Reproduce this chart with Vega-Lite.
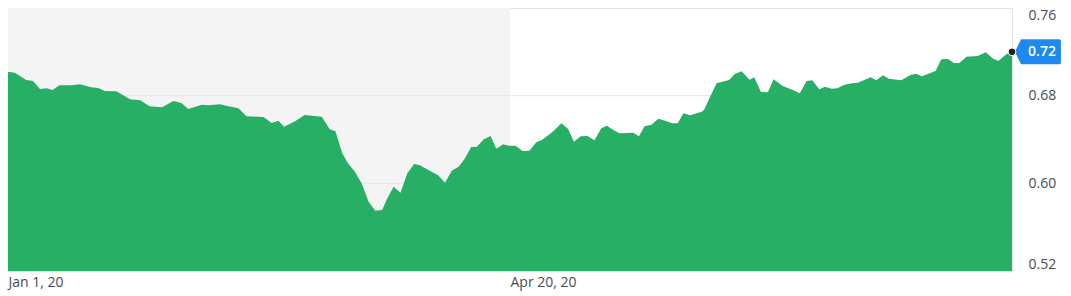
{
  "$schema": "https://vega.github.io/schema/vega-lite/v6.json",
  "width": 1004,
  "height": 263,
  "autosize": {"type": "none"},
  "padding": {"left": 8, "top": 8, "right": 59, "bottom": 25},
  "background": "white",
  "config": {"view": {"stroke": "#e2e2e2", "strokeWidth": 1}, "font": "Open Sans"},
  "datasets": {
    "band": [{"start": "2020-01-01T00:00", "end": "2020-04-20T00:00"}],
    "grid": [{"v": 0.60}, {"v": 0.68}],
    "last": [{"date": "2020-08-08T00:00", "value": 0.72}],
    "series": [
      {"date": "2020-01-01T00:00", "value": 0.7019},
      {"date": "2020-01-02T12:00", "value": 0.7010},
      {"date": "2020-01-05T00:00", "value": 0.6943},
      {"date": "2020-01-06T12:00", "value": 0.6934},
      {"date": "2020-01-08T00:00", "value": 0.6861},
      {"date": "2020-01-09T12:00", "value": 0.6867},
      {"date": "2020-01-10T18:00", "value": 0.6852},
      {"date": "2020-01-12T06:00", "value": 0.6895},
      {"date": "2020-01-15T00:00", "value": 0.6895},
      {"date": "2020-01-16T18:00", "value": 0.6904},
      {"date": "2020-01-19T06:00", "value": 0.6876},
      {"date": "2020-01-20T18:00", "value": 0.6870},
      {"date": "2020-01-22T06:00", "value": 0.6843},
      {"date": "2020-01-24T18:00", "value": 0.6840},
      {"date": "2020-01-27T18:00", "value": 0.6767},
      {"date": "2020-01-30T00:00", "value": 0.6758},
      {"date": "2020-02-01T00:00", "value": 0.6703},
      {"date": "2020-02-03T18:00", "value": 0.6694},
      {"date": "2020-02-06T06:00", "value": 0.6751},
      {"date": "2020-02-08T00:00", "value": 0.6733},
      {"date": "2020-02-09T12:00", "value": 0.6678},
      {"date": "2020-02-12T12:00", "value": 0.6718},
      {"date": "2020-02-14T00:00", "value": 0.6712},
      {"date": "2020-02-16T12:00", "value": 0.6721},
      {"date": "2020-02-18T00:00", "value": 0.6706},
      {"date": "2020-02-20T12:00", "value": 0.6685},
      {"date": "2020-02-22T06:00", "value": 0.6612},
      {"date": "2020-02-26T00:00", "value": 0.6605},
      {"date": "2020-02-27T18:00", "value": 0.6551},
      {"date": "2020-02-29T06:00", "value": 0.6572},
      {"date": "2020-03-01T12:00", "value": 0.6517},
      {"date": "2020-03-04T00:00", "value": 0.6569},
      {"date": "2020-03-06T00:00", "value": 0.6624},
      {"date": "2020-03-09T18:00", "value": 0.6608},
      {"date": "2020-03-11T12:00", "value": 0.6493},
      {"date": "2020-03-12T18:00", "value": 0.6475},
      {"date": "2020-03-14T06:00", "value": 0.6274},
      {"date": "2020-03-15T12:00", "value": 0.6183},
      {"date": "2020-03-17T00:00", "value": 0.6106},
      {"date": "2020-03-18T12:00", "value": 0.6000},
      {"date": "2020-03-20T00:00", "value": 0.5832},
      {"date": "2020-03-21T12:00", "value": 0.5750},
      {"date": "2020-03-23T00:00", "value": 0.5757},
      {"date": "2020-03-24T00:00", "value": 0.5854},
      {"date": "2020-03-25T12:00", "value": 0.5969},
      {"date": "2020-03-27T00:00", "value": 0.5915},
      {"date": "2020-03-28T12:00", "value": 0.6092},
      {"date": "2020-03-30T00:00", "value": 0.6176},
      {"date": "2020-03-31T06:00", "value": 0.6165},
      {"date": "2020-04-02T12:00", "value": 0.6113},
      {"date": "2020-04-04T06:00", "value": 0.6073},
      {"date": "2020-04-05T18:00", "value": 0.6006},
      {"date": "2020-04-07T06:00", "value": 0.6115},
      {"date": "2020-04-08T18:00", "value": 0.6152},
      {"date": "2020-04-10T00:00", "value": 0.6219},
      {"date": "2020-04-11T12:00", "value": 0.6332},
      {"date": "2020-04-12T18:00", "value": 0.6334},
      {"date": "2020-04-14T06:00", "value": 0.6402},
      {"date": "2020-04-15T18:00", "value": 0.6432},
      {"date": "2020-04-17T00:00", "value": 0.6316},
      {"date": "2020-04-18T12:00", "value": 0.6356},
      {"date": "2020-04-19T18:00", "value": 0.6343},
      {"date": "2020-04-21T06:00", "value": 0.6343},
      {"date": "2020-04-22T18:00", "value": 0.6295},
      {"date": "2020-04-24T06:00", "value": 0.6298},
      {"date": "2020-04-25T18:00", "value": 0.6374},
      {"date": "2020-04-27T00:00", "value": 0.6395},
      {"date": "2020-04-29T12:00", "value": 0.6475},
      {"date": "2020-05-01T06:00", "value": 0.6548},
      {"date": "2020-05-02T18:00", "value": 0.6496},
      {"date": "2020-05-04T00:00", "value": 0.6380},
      {"date": "2020-05-05T12:00", "value": 0.6429},
      {"date": "2020-05-07T00:00", "value": 0.6432},
      {"date": "2020-05-08T12:00", "value": 0.6393},
      {"date": "2020-05-10T00:00", "value": 0.6502},
      {"date": "2020-05-11T06:00", "value": 0.6526},
      {"date": "2020-05-12T18:00", "value": 0.6484},
      {"date": "2020-05-14T00:00", "value": 0.6457},
      {"date": "2020-05-17T00:00", "value": 0.6462},
      {"date": "2020-05-18T06:00", "value": 0.6429},
      {"date": "2020-05-19T12:00", "value": 0.6520},
      {"date": "2020-05-21T00:00", "value": 0.6535},
      {"date": "2020-05-22T12:00", "value": 0.6590},
      {"date": "2020-05-24T00:00", "value": 0.6572},
      {"date": "2020-05-25T12:00", "value": 0.6548},
      {"date": "2020-05-26T18:00", "value": 0.6548},
      {"date": "2020-05-28T00:00", "value": 0.6639},
      {"date": "2020-05-29T12:00", "value": 0.6621},
      {"date": "2020-06-01T00:00", "value": 0.6654},
      {"date": "2020-06-01T12:00", "value": 0.6669},
      {"date": "2020-06-04T06:00", "value": 0.6913},
      {"date": "2020-06-07T00:00", "value": 0.6943},
      {"date": "2020-06-08T06:00", "value": 0.6998},
      {"date": "2020-06-09T18:00", "value": 0.7022},
      {"date": "2020-06-11T12:00", "value": 0.6946},
      {"date": "2020-06-12T12:00", "value": 0.6968},
      {"date": "2020-06-14T00:00", "value": 0.6833},
      {"date": "2020-06-15T12:00", "value": 0.6831},
      {"date": "2020-06-16T18:00", "value": 0.6949},
      {"date": "2020-06-18T18:00", "value": 0.6888},
      {"date": "2020-06-21T00:00", "value": 0.6852},
      {"date": "2020-06-22T12:00", "value": 0.6822},
      {"date": "2020-06-24T00:00", "value": 0.6934},
      {"date": "2020-06-25T06:00", "value": 0.6940},
      {"date": "2020-06-26T18:00", "value": 0.6858},
      {"date": "2020-06-28T00:00", "value": 0.6882},
      {"date": "2020-06-29T12:00", "value": 0.6864},
      {"date": "2020-06-30T18:00", "value": 0.6867},
      {"date": "2020-07-02T06:00", "value": 0.6900},
      {"date": "2020-07-04T00:00", "value": 0.6913},
      {"date": "2020-07-05T06:00", "value": 0.6918},
      {"date": "2020-07-08T00:00", "value": 0.6968},
      {"date": "2020-07-09T06:00", "value": 0.6940},
      {"date": "2020-07-10T18:00", "value": 0.6986},
      {"date": "2020-07-12T00:00", "value": 0.6955},
      {"date": "2020-07-14T18:00", "value": 0.6940},
      {"date": "2020-07-16T18:00", "value": 0.6989},
      {"date": "2020-07-18T00:00", "value": 0.7000},
      {"date": "2020-07-19T06:00", "value": 0.6977},
      {"date": "2020-07-22T06:00", "value": 0.7025},
      {"date": "2020-07-23T12:00", "value": 0.7132},
      {"date": "2020-07-25T00:00", "value": 0.7135},
      {"date": "2020-07-26T06:00", "value": 0.7098},
      {"date": "2020-07-27T12:00", "value": 0.7098},
      {"date": "2020-07-29T00:00", "value": 0.7156},
      {"date": "2020-07-31T12:00", "value": 0.7162},
      {"date": "2020-08-02T06:00", "value": 0.7196},
      {"date": "2020-08-03T18:00", "value": 0.7141},
      {"date": "2020-08-05T00:00", "value": 0.7116},
      {"date": "2020-08-06T18:00", "value": 0.7178},
      {"date": "2020-08-08T00:00", "value": 0.7200}
    ]
  },
  "layer": [
    {
      "data": {"name": "band"},
      "mark": {"type": "rect", "color": "#f4f4f4"},
      "encoding": {
        "x": {"field": "start", "type": "temporal", "title": null},
        "x2": {"field": "end"}
      }
    },
    {
      "data": {"name": "grid"},
      "mark": {"type": "rule", "color": "#e6e6e6", "strokeWidth": 1},
      "encoding": {
        "y": {"field": "v", "type": "quantitative", "title": null}
      }
    },
    {
      "data": {"name": "series"},
      "mark": {"type": "area", "color": "#27af65", "opacity": 1},
      "encoding": {
        "x": {
          "field": "date",
          "type": "temporal",
          "title": null,
          "scale": {"domain": [{"year": 2020, "month": 1, "date": 1}, {"year": 2020, "month": 8, "date": 8}], "nice": false},
          "axis": {
            "values": [{"year": 2020, "month": 1, "date": 1}, {"year": 2020, "month": 4, "date": 20}],
            "format": "%b %-d, %y",
            "labelAlign": "left",
            "labelBaseline": "top",
            "labelFlush": false,
            "labelBound": false,
            "labelPadding": 4,
            "labelFontSize": 14,
            "labelColor": "#464e56",
            "labelFont": "Open Sans",
            "ticks": false,
            "domain": false,
            "grid": false
          }
        },
        "y": {
          "field": "value",
          "type": "quantitative",
          "title": null,
          "scale": {"domain": [0.52, 0.76], "zero": false, "nice": false},
          "axis": {
            "orient": "right",
            "values": [0.52, 0.60, 0.68, 0.76],
            "format": ".2f",
            "labelFlush": true,
            "labelPadding": 16,
            "labelFontSize": 14,
            "labelColor": "#464e56",
            "labelFont": "Open Sans",
            "ticks": false,
            "domain": false,
            "grid": false
          }
        },
        "y2": {"datum": 0.52}
      }
    },
    {
      "data": {"name": "last"},
      "mark": {
        "type": "point",
        "filled": true,
        "color": "#1e8af0",
        "opacity": 1,
        "size": 2304,
        "shape": "M0.125,0 L0.375,-0.52 L1.96,-0.52 Q2.04,-0.52 2.04,-0.44 L2.04,0.44 Q2.04,0.52 1.96,0.52 L0.375,0.52 Z"
      },
      "encoding": {
        "x": {"field": "date", "type": "temporal", "title": null},
        "y": {"field": "value", "type": "quantitative", "title": null}
      }
    },
    {
      "data": {"name": "last"},
      "mark": {"type": "point", "filled": true, "color": "#1f1f1f", "opacity": 1, "size": 60, "shape": "circle", "stroke": "white", "strokeWidth": 1},
      "encoding": {
        "x": {"field": "date", "type": "temporal", "title": null},
        "y": {"field": "value", "type": "quantitative", "title": null}
      }
    },
    {
      "data": {"name": "last"},
      "mark": {"type": "text", "color": "white", "dx": 30, "align": "center", "baseline": "middle", "font": "Open Sans", "fontSize": 14, "fontWeight": 600},
      "encoding": {
        "x": {"field": "date", "type": "temporal", "title": null},
        "y": {"field": "value", "type": "quantitative", "title": null},
        "text": {"field": "value", "type": "quantitative", "format": ".2f"}
      }
    }
  ]
}
